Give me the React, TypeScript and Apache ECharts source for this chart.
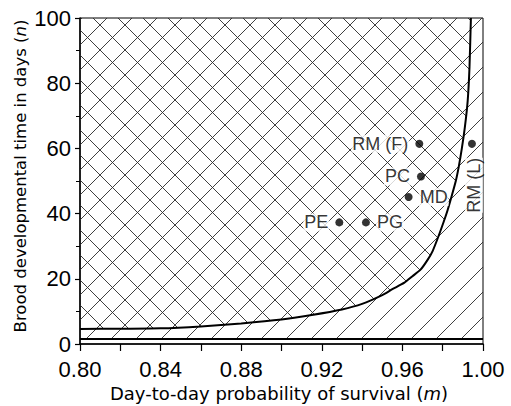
import React, { useEffect, useRef } from "react";
import * as echarts from "echarts";

// curve separating the two regions (m, n)
const curveM = [0.80, 0.82, 0.84, 0.86, 0.88, 0.90, 0.915, 0.93, 0.94, 0.95, 0.955, 0.961, 0.965, 0.969, 0.9725, 0.975, 0.978, 0.9805, 0.9825, 0.9845, 0.9865, 0.988, 0.9895, 0.991, 0.9924, 0.9933, 0.994];
const curveN = [4.6, 4.7, 4.8, 5.4, 6.3, 7.5, 8.9, 10.6, 12.3, 15.0, 16.8, 18.8, 20.8, 22.8, 25.8, 28.5, 33.2, 37.5, 41.2, 45.5, 50.0, 54.5, 60.0, 66.5, 74.6, 85.0, 100];

// lower bound line
const baseM = [0.80, 1.00];
const baseN = [1.5, 1.5];

// species points
const pointNames = ["PE", "PG", "MD", "PC", "RM (F)", "RM (L)"];
const pointM = [0.9287, 0.9419, 0.9631, 0.9692, 0.9684, 0.9945];
const pointN = [37.3, 37.3, 45.1, 51.4, 61.4, 61.4];
const labelSide = ["left", "right", "right", "left", "left", "rot"];

function makeHatch(dirs: string[]) {
  const s = 25;
  const c = document.createElement("canvas");
  c.width = s;
  c.height = s;
  const ctx = c.getContext("2d")!;
  ctx.strokeStyle = "#2a2a2a";
  ctx.lineWidth = 0.9;
  for (const d of dirs) {
    ctx.beginPath();
    if (d === "/") {
      ctx.moveTo(-5, s + 5);
      ctx.lineTo(s + 5, -5);
    } else {
      ctx.moveTo(-5, -5);
      ctx.lineTo(s + 5, s + 5);
    }
    ctx.stroke();
  }
  return c;
}

export default function App() {
  const ref = useRef<HTMLDivElement>(null);
  useEffect(() => {
    if (!ref.current) return;
    const chart = echarts.init(ref.current, undefined, { renderer: "svg" });
    const slash = { image: makeHatch(["/"]), repeat: "repeat", imageWidth: 25, imageHeight: 25 } as any;
    const back = { image: makeHatch(["\\"]), repeat: "repeat", imageWidth: 25, imageHeight: 25 } as any;

    const tickFont = { fontFamily: "Liberation Sans", fontSize: 22, color: "#000" };

    const scatterData = pointNames.map((name, i) => {
      const side = labelSide[i];
      let label: any;
      if (side === "rot") {
        label = {
          show: true,
          position: [6, 18],
          rotate: 90,
          align: "right",
          verticalAlign: "middle",
          padding: 0,
        };
      } else {
        label = { show: true, position: side, distance: 6 };
      }
      return { name, value: [pointM[i], pointN[i]], label };
    });

    chart.setOption({
      animation: false,
      grid: {
        left: 80,
        right: 28,
        top: 18,
        bottom: 62,
        show: true,
        borderColor: "#000",
        borderWidth: 1,
        backgroundColor: "transparent",
      },
      xAxis: {
        type: "value",
        min: 0.8,
        max: 1.0,
        interval: 0.04,
        axisLine: { show: true, lineStyle: { color: "#000", width: 1.5 } },
        axisTick: { show: true, inside: false, length: 7, lineStyle: { color: "#000", width: 1.2 } },
        minorTick: { show: true, splitNumber: 2, length: 7, lineStyle: { color: "#000", width: 1.2 } },
        splitLine: { show: false },
        minorSplitLine: { show: false },
        axisLabel: { ...tickFont, margin: 14, formatter: (v: number) => v.toFixed(2) },
      },
      yAxis: {
        type: "value",
        min: 0,
        max: 100,
        interval: 20,
        axisLine: { show: true, lineStyle: { color: "#000", width: 1.5 } },
        axisTick: { show: true, inside: false, length: 5, lineStyle: { color: "#000", width: 1.2 } },
        minorTick: { show: true, splitNumber: 2, length: 4, lineStyle: { color: "#000", width: 1 } },
        splitLine: { show: false },
        minorSplitLine: { show: false },
        axisLabel: { ...tickFont, margin: 9 },
      },
      graphic: [
        {
          type: "text",
          x: 279,
          y: 393,
          style: {
            text: "{a|Day-to-day probability of survival (}{i|m}{a|)}",
            align: "center",
            verticalAlign: "middle",
            rich: {
              a: { fontFamily: "DejaVu Sans", fontSize: 18, fill: "#000" },
              i: { fontFamily: "DejaVu Sans", fontSize: 18, fontStyle: "italic", fill: "#000" },
            },
          },
        },
        {
          type: "text",
          x: 20,
          y: 176,
          rotation: Math.PI / 2,
          style: {
            text: "{a|Brood developmental time in days (}{i|n}{a|)}",
            align: "center",
            verticalAlign: "middle",
            rich: {
              a: { fontFamily: "DejaVu Sans", fontSize: 16.5, fill: "#000" },
              i: { fontFamily: "DejaVu Sans", fontSize: 16.5, fontStyle: "italic", fill: "#000" },
            },
          },
        },
      ],
      series: [
        {
          type: "line",
          data: baseM.map((m, i) => [m, baseN[i]]),
          symbol: "none",
          lineStyle: { color: "#000", width: 2 },
          z: 3,
          markArea: {
            silent: true,
            label: { show: false },
            itemStyle: { color: slash, borderWidth: 0 },
            data: [[{ coord: [0.8, 1.5] }, { coord: [1.0, 100] }]],
          },
        },
        {
          type: "line",
          data: curveM.map((m, i) => [m, curveN[i]]),
          symbol: "none",
          smooth: 0.2,
          lineStyle: { color: "#000", width: 2 },
          areaStyle: { origin: "end", color: back, opacity: 1 },
          z: 3,
        },
        {
          type: "scatter",
          data: scatterData,
          symbol: "circle",
          symbolSize: 8,
          itemStyle: { color: "#000" },
          z: 5,
          label: {
            formatter: (p: any) => p.name,
            fontFamily: "Liberation Sans",
            fontSize: 18,
            color: "#000",
            backgroundColor: "#fff",
            padding: [0, 1],
          },
        },
      ],
    });
    return () => chart.dispose();
  }, []);
  return <div ref={ref} style={{ width: 511, height: 406, position: "absolute", left: 0, top: 0, background: "#fff" }} />;
}
